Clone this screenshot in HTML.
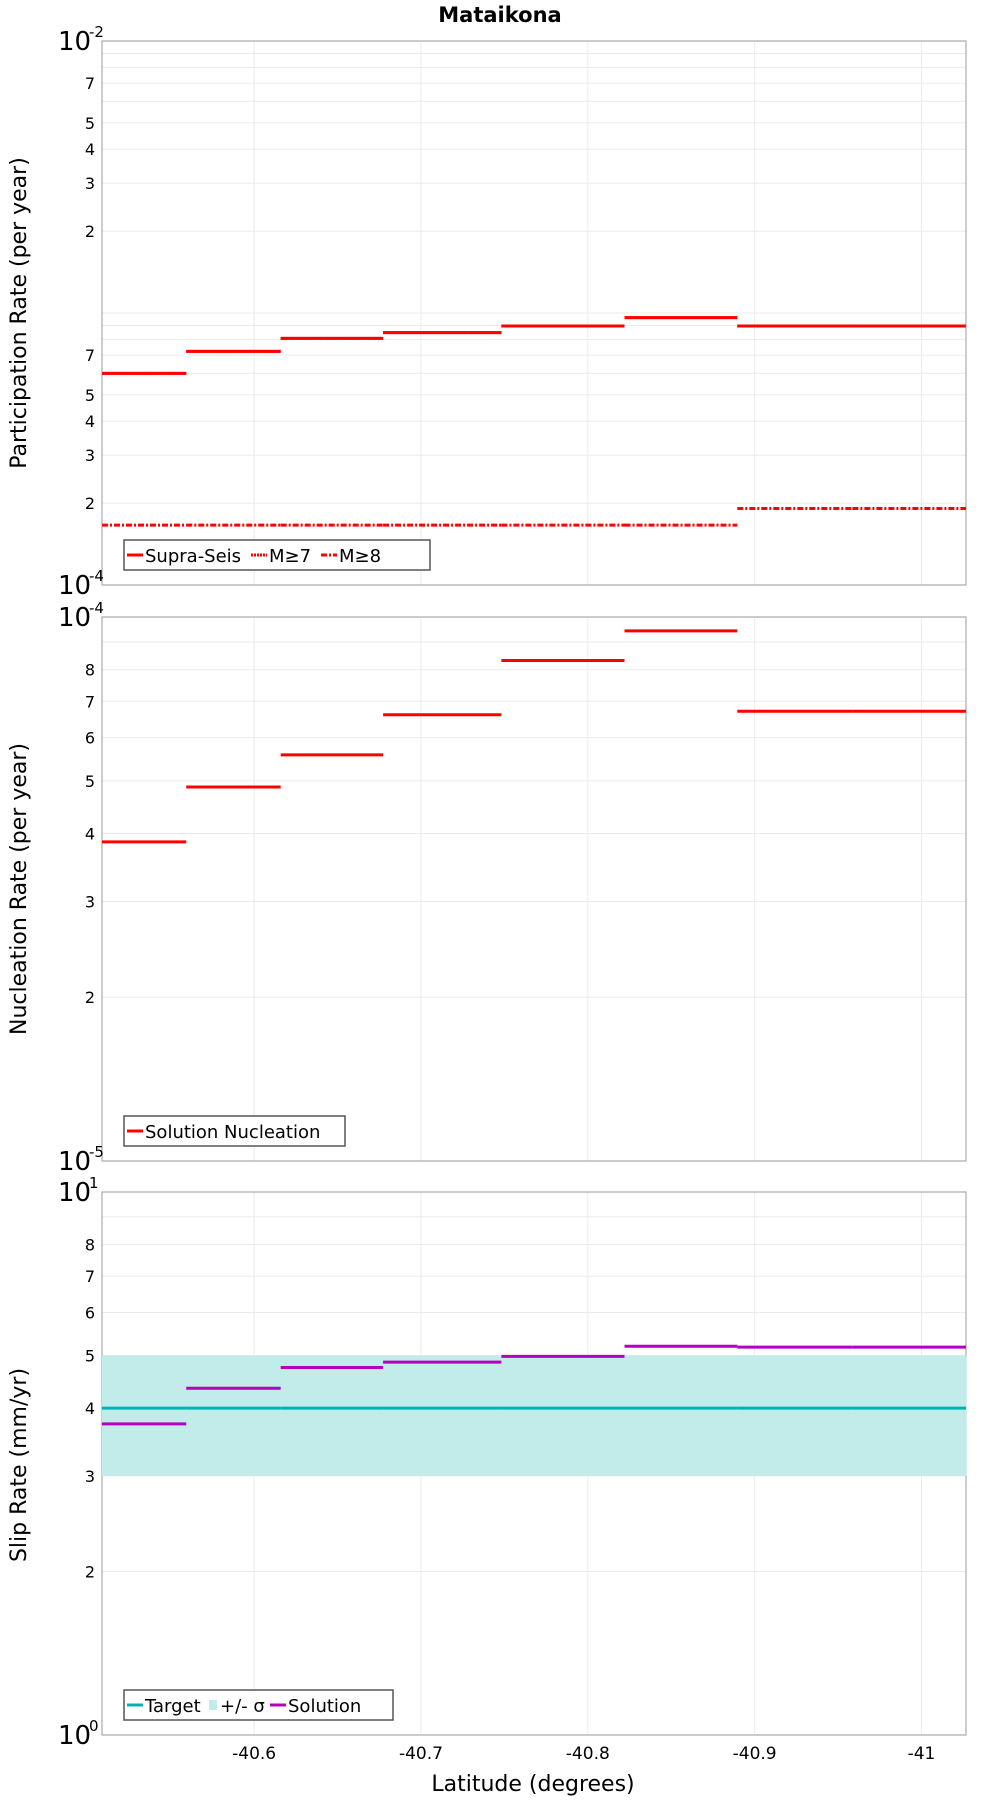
<!DOCTYPE html>
<html><head><meta charset="utf-8"><style>
html,body{margin:0;padding:0;background:#fff}
svg{display:block}
text{font-family:"DejaVu Sans","Liberation Sans",sans-serif;fill:#000}
</style></head><body>
<svg id="chart" width="1000" height="1800" viewBox="0 0 1000 1800" xmlns="http://www.w3.org/2000/svg">
<text x="500" y="22" text-anchor="middle" font-size="21" font-weight="bold">Mataikona</text>
<g id="layer"></g>
</svg>
<script>
// section boundaries (latitude)
const latEdges = [-40.5088, -40.5593, -40.6159, -40.6773, -40.7482, -40.8220, -40.8896, -40.9586, -41.0267];
const xTicks = [-40.6, -40.7, -40.8, -40.9, -41];
const xTickLabels = ["-40.6", "-40.7", "-40.8", "-40.9", "-41"];
// participation rates
const supraSeis = [6.0e-4, 7.23e-4, 8.07e-4, 8.47e-4, 8.96e-4, 9.62e-4, 8.96e-4, 8.96e-4];
const m7 = [6.0e-4, 7.23e-4, 8.07e-4, 8.47e-4, 8.96e-4, 9.62e-4, 8.96e-4, 8.96e-4];
const m8 = [1.66e-4, 1.66e-4, 1.66e-4, 1.66e-4, 1.66e-4, 1.66e-4, 1.91e-4, 1.91e-4];
// nucleation
const nucleation = [3.86e-5, 4.87e-5, 5.58e-5, 6.61e-5, 8.32e-5, 9.43e-5, 6.71e-5, 6.71e-5];
// slip
const slipSolution = [3.74, 4.35, 4.75, 4.86, 4.98, 5.20, 5.18, 5.18];
const slipTarget = [4, 4, 4, 4, 4, 4, 4, 4];
const slipSigmaLow = [3, 3, 3, 3, 3, 3, 3, 3];
const slipSigmaHigh = [5, 5, 5, 5, 5, 5, 5, 5];
const p1Ticks = [7, 5, 4, 3, 2];
const p2Ticks = [8, 7, 6, 5, 4, 3, 2];
const p3Ticks = [8, 7, 6, 5, 4, 3, 2];

const NS = "http://www.w3.org/2000/svg";
const layer = document.getElementById('layer');
function mk(tag, attrs, parent){const e=document.createElementNS(NS,tag);for(const k in attrs)e.setAttribute(k,attrs[k]);(parent||layer).appendChild(e);return e;}
const L=102,R=966;
const xScale = lat => L + (lat - latEdges[0]) / (latEdges[latEdges.length-1] - latEdges[0]) * (R - L);

function panel(top,bot,maxExp,minExp,ticks,name){
  const y = v => top + (maxExp - Math.log10(v)) / (maxExp - minExp) * (bot - top);
  const g = mk('g',{});
  
  
  mk('rect',{x:L,y:top,width:R-L,height:bot-top,fill:'#fff'},g);
  for(let e=minExp;e<maxExp;e++){for(let m=1;m<10;m++){const yy=y(m*Math.pow(10,e));if(yy>top+0.5&&yy<bot-0.5){const ln=mk('line',{x1:L,x2:R,y1:yy,y2:yy,stroke:'#ebebeb','stroke-width':1},g);
    
    }}}
  xTicks.forEach(t=>{const xx=xScale(t);const ln=mk('line',{x1:xx,x2:xx,y1:top,y2:bot,stroke:'#ebebeb','stroke-width':1},g);
    
    });
  mk('rect',{x:L,y:top,width:R-L,height:bot-top,fill:'none',stroke:'#aaa','stroke-width':1.2},g);
  for(let e=minExp;e<maxExp;e++){
    ticks.forEach(t=>{const tx=mk('text',{x:95,y:y(t*Math.pow(10,e))+6,'text-anchor':'end','font-size':16},g);tx.textContent=t;
      
      });
  }
  [[maxExp,top],[minExp,bot]].forEach(([ex,yy])=>{const tx=mk('text',{x:58,y:yy+9,'font-size':26},g);tx.textContent='10';
    
    
    const sp=mk('text',{x:89,y:yy-4,'font-size':15},g);sp.textContent=String(ex);
    
    });
  return {g,y};
}
function steps(g,y,vals,color,dash,name){
  vals.forEach((v,i)=>{const ln=mk('line',{x1:xScale(latEdges[i]),x2:xScale(latEdges[i+1]),y1:y(v),y2:y(v),stroke:color,'stroke-width':3},g);
    if(dash)ln.setAttribute('stroke-dasharray',dash);
    
    });
}
function legend(g,x,yTop,w,items){
  const box=mk('rect',{x:x,y:yTop,width:w,height:30,fill:'#fff',stroke:'#555','stroke-width':1.5},g);
  
  
  let cx=x+3;
  items.forEach(it=>{
    const s=it.band?mk('rect',{x:cx+2,y:yTop+10,width:8,height:10,fill:it.color},g):mk('line',{x1:cx,x2:cx+16,y1:yTop+15,y2:yTop+15,stroke:it.color,'stroke-width':3,'stroke-dasharray':it.dash||'none'},g);
    
    
    const tx=mk('text',{x:cx+(it.band?13:18),y:yTop+22,'font-size':18},g);tx.textContent=it.label;
    
    
    cx+= (it.band?13:18)+it.w;
  });
}
// panel 1
const p1=panel(41,585,-2,-4,p1Ticks,'participation');
steps(p1.g,p1.y,supraSeis,'#ff0000',null,'supra-seis');
steps(p1.g,p1.y,m7,'#ff0000','2 1','m7');
steps(p1.g,p1.y,m8,'#ff0000','6 2 2 2','m8');
legend(p1.g,124,540,306,[{label:'Supra-Seis',color:'#f00',w:106},{label:'M≥7',color:'#f00',dash:'2 1',w:52},{label:'M≥8',color:'#f00',dash:'6 2 2 2',w:50}]);
// panel 2
const p2=panel(617,1161,-4,-5,p2Ticks,'nucleation');
steps(p2.g,p2.y,nucleation,'#ff0000',null,'nucleation');
legend(p2.g,124,1116,221,[{label:'Solution Nucleation',color:'#f00',w:200}]);
// panel 3
const p3=panel(1192,1735,1,0,p3Ticks,'slip');
slipSigmaLow.forEach((v,i)=>{const r=mk('rect',{x:xScale(latEdges[i]),width:xScale(latEdges[i+1])-xScale(latEdges[i])+0.5,y:p3.y(slipSigmaHigh[i]),height:p3.y(v)-p3.y(slipSigmaHigh[i]),fill:'#c2ecea'},p3.g);
  
  });
steps(p3.g,p3.y,slipTarget,'#00b4b4',null,'target');
steps(p3.g,p3.y,slipSolution,'#b400c0',null,'slip-solution');
legend(p3.g,124,1690,269,[{label:'Target',color:'#00b4b4',w:62},{label:'+/- σ',color:'#c2ecea',band:true,w:50},{label:'Solution',color:'#b400c0',w:80}]);
// x ticks
xTicks.forEach((t,i)=>{const tx=mk('text',{x:xScale(t),y:1759,'text-anchor':'middle','font-size':17});tx.textContent=xTickLabels[i];
  
  });
// titles
const xt=mk('text',{x:533,y:1791,'text-anchor':'middle','font-size':22});xt.textContent='Latitude (degrees)';


[['Participation Rate (per year)',313,'participation-y-axis-title'],['Nucleation Rate (per year)',889,'nucleation-y-axis-title'],['Slip Rate (mm/yr)',1465,'slip-y-axis-title']].forEach(([s,cy,n])=>{
  const tx=mk('text',{x:0,y:0,'text-anchor':'middle','font-size':22,transform:'translate(26,'+cy+') rotate(-90)'});tx.textContent=s;
  
  });
</script>
</body></html>
